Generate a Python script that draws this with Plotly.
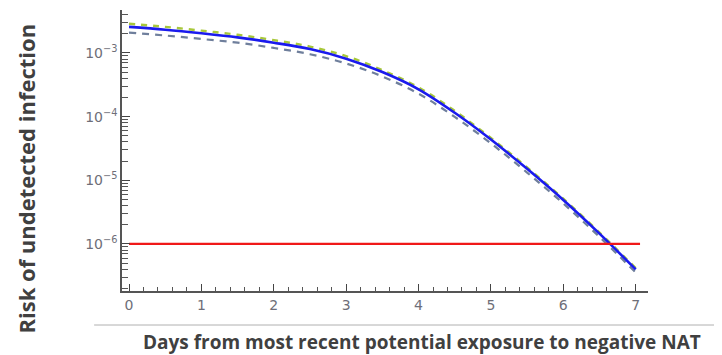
import math
import plotly.graph_objects as go

# days from exposure
days = [0, 0.5, 1, 1.5, 2, 2.5, 3, 3.5, 4, 4.5, 5, 5.5, 6, 6.5, 7]

# risk curves
risk_main = [2.57e-3, 2.32e-3, 2.04e-3, 1.76e-3, 1.45e-3, 1.15e-3, 8.13e-4, 5.01e-4,
             2.69e-4, 1.15e-4, 4.37e-5, 1.51e-5, 4.90e-6, 1.45e-6, 3.98e-7]
risk_upper = [2.88e-3, 2.57e-3, 2.24e-3, 1.93e-3, 1.59e-3, 1.26e-3, 8.91e-4, 5.37e-4,
              2.88e-4, 1.23e-4, 4.62e-5, 1.59e-5, 5.13e-6, 1.51e-6, 4.17e-7]
risk_lower = [2.09e-3, 1.88e-3, 1.66e-3, 1.45e-3, 1.20e-3, 9.55e-4, 6.84e-4, 4.27e-4,
              2.29e-4, 9.89e-5, 3.80e-5, 1.32e-5, 4.31e-6, 1.29e-6, 3.55e-7]

# threshold line
thr_days = [0, 7.06]
thr_risk = [1e-6, 1e-6]

# ticks
x_major = [0, 1, 2, 3, 4, 5, 6, 7]
x_minor = [i / 5 for i in range(0, 36) if i % 5 != 0]
y_major = [1e-6, 1e-5, 1e-4, 1e-3]
y_major_text = ["10<sup>\u22126</sup>", "10<sup>\u22125</sup>",
                "10<sup>\u22124</sup>", "10<sup>\u22123</sup>"]
y_minor = [m * 10.0 ** e for e in range(-7, -2) for m in range(2, 10)]

xr = [-0.097, 7.17]
yr = [-6.74, -2.325]

# y axis works in decades (log10) so the inside ticks render like the x axis
lg = lambda vals: [math.log10(v) for v in vals]

fig = go.Figure()
fig.add_trace(go.Scatter(x=days, y=lg(risk_lower), mode="lines", line_shape="spline",
                         line=dict(color="#6f7f9c", width=2.2, dash="7px,6px")))
fig.add_trace(go.Scatter(x=days, y=lg(risk_upper), mode="lines", line_shape="spline",
                         line=dict(color="#a8c83a", width=2.4, dash="6px,6px")))
fig.add_trace(go.Scatter(x=days, y=lg(risk_main), mode="lines", line_shape="spline",
                         line=dict(color="#1a1aee", width=2.6)))
fig.add_trace(go.Scatter(x=thr_days, y=lg(thr_risk), mode="lines",
                         line=dict(color="#f01818", width=2.2)))

tickfont = dict(family="DejaVu Sans", size=14, color="#6e6e78")
# the page body adds 8px, so the figure is 8px smaller and margins shifted
fig.update_layout(
    width=714, height=347,
    margin=dict(l=114, r=74, t=2, b=64),
    paper_bgcolor="white", plot_bgcolor="white",
    showlegend=False,
    xaxis=dict(range=xr, tickmode="array", tickvals=x_major, ticks="inside", ticklen=7,
               tickwidth=1.3, tickcolor="#444",
               showline=True, linecolor="#555", linewidth=1.5,
               showgrid=False, zeroline=False, tickfont=tickfont, automargin=False,
               minor=dict(tickmode="array", tickvals=x_minor, ticks="inside", ticklen=4,
                          tickwidth=1.2, tickcolor="#555")),
    yaxis=dict(range=yr, tickmode="array", tickvals=lg(y_major), ticktext=y_major_text,
               ticks="inside", ticklen=8, tickwidth=1.3, tickcolor="#444", showline=True,
               linecolor="#555", linewidth=1.5, showgrid=False, zeroline=False,
               tickfont=tickfont, automargin=False,
               minor=dict(tickmode="array", tickvals=lg(y_minor), ticks="inside", ticklen=6,
                          tickwidth=1.2, tickcolor="#555")),
)

fig.add_annotation(text="<b>Risk of undetected infection</b>", xref="paper", yref="paper",
                   x=-0.215, y=0.40, textangle=-90, showarrow=False,
                   font=dict(family="Open Sans", size=22, color="#404040"))
fig.add_annotation(text="<b>Days from most recent potential exposure to negative NAT</b>",
                   xref="paper", yref="paper", x=0.570, y=-0.235, showarrow=False,
                   font=dict(family="Open Sans", size=19, color="#404040"))
fig.add_shape(type="line", xref="paper", yref="paper", x0=-0.053, x1=1.16,
              y0=-0.121, y1=-0.121, line=dict(color="#b0b0b0", width=1))

fig.write_html("out.html")
